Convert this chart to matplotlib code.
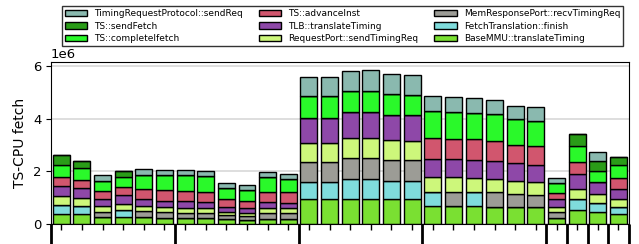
import numpy as np
import matplotlib
matplotlib.use("Agg")
import matplotlib.pyplot as plt

# Stack components, bottom to top (values in units of 1e6)
labels = [
    "BaseMMU::translateTiming",
    "FetchTranslation::finish",
    "MemResponsePort::recvTimingReq",
    "RequestPort::sendTimingReq",
    "TLB::translateTiming",
    "TS::advanceInst",
    "TS::completeIfetch",
    "TS::sendFetch",
    "TimingRequestProtocol::sendReq",
]
colors = ["#7ae032", "#7fdcdc", "#9c9c96", "#cdf77b", "#8e48a8",
          "#d1566e", "#2af92a", "#2a9c18", "#8ab9af"]

base_mmu = [0.39, 0.39, 0.25, 0.28, 0.25, 0.23, 0.22, 0.21, 0.18, 0.15, 0.20, 0.20,
            0.94, 0.94, 0.96, 0.96, 0.94, 0.94, 0.68, 0.68, 0.68, 0.66, 0.63, 0.63,
            0.24, 0.52, 0.44, 0.37]
fetch_translation = [0.33, 0.31, 0, 0.24, 0, 0, 0, 0, 0, 0, 0, 0,
                     0.67, 0.67, 0.75, 0.75, 0.71, 0.71, 0.54, 0, 0.54, 0, 0, 0,
                     0, 0.42, 0.34, 0.29]
mem_response = [0, 0, 0.22, 0, 0.24, 0.21, 0.19, 0.20, 0.15, 0.15, 0.21, 0.21,
                0.73, 0.73, 0.78, 0.78, 0.78, 0.78, 0, 0.54, 0, 0.54, 0.50, 0.48,
                0.20, 0, 0, 0]
request_port = [0.33, 0.27, 0.20, 0.23, 0.21, 0.19, 0.19, 0.18, 0.14, 0.13, 0.18, 0.18,
                0.75, 0.75, 0.78, 0.78, 0.75, 0.73, 0.55, 0.55, 0.51, 0.51, 0.50, 0.47,
                0.21, 0.39, 0.35, 0.28]
tlb = [0.41, 0.38, 0.28, 0.35, 0.26, 0.26, 0.26, 0.24, 0.19, 0.16, 0.23, 0.22,
       0.95, 0.95, 0.97, 0.97, 0.97, 0.97, 0.70, 0.69, 0.71, 0.70, 0.67, 0.67,
       0.29, 0.56, 0.46, 0.38]
advance_inst = [0.34, 0.33, 0.30, 0.29, 0.37, 0.39, 0.40, 0.40, 0.29, 0.28, 0.41, 0.39,
                0, 0, 0, 0, 0, 0, 0.78, 0.78, 0.78, 0.75, 0.70, 0.71,
                0.22, 0.45, 0, 0.41]
complete_ifetch = [0.44, 0.43, 0.40, 0.39, 0.53, 0.57, 0.60, 0.58, 0.42, 0.42, 0.54, 0.51,
                   0.80, 0.80, 0.80, 0.80, 0.77, 0.77, 1.04, 1.01, 1.01, 1.03, 0.97, 0.94,
                   0.41, 0.63, 0.42, 0.51]
send_fetch = [0.37, 0.30, 0, 0.23, 0, 0, 0, 0, 0, 0, 0, 0,
              0, 0, 0, 0, 0, 0, 0, 0, 0, 0, 0, 0,
              0, 0.44, 0.38, 0.32]
timing_req_protocol = [0, 0, 0.20, 0, 0.22, 0.20, 0.20, 0.20, 0.17, 0.18, 0.19, 0.19,
                       0.75, 0.75, 0.78, 0.82, 0.76, 0.76, 0.55, 0.57, 0.54, 0.53, 0.52, 0.53,
                       0.19, 0, 0.36, 0]

series = [base_mmu, fetch_translation, mem_response, request_port, tlb,
          advance_inst, complete_ifetch, send_fetch, timing_req_protocol]

# group boundaries on the x axis (long ticks)
group_edges = [-0.5, 5.5, 11.5, 17.5, 23.5, 24.5, 25.5, 26.5, 27.5]

fig = plt.figure(figsize=(6.39, 2.44), dpi=100)
ax = fig.add_axes([0.0798, 0.082, 0.9042, 0.664])

x = np.arange(len(base_mmu))
bottom = np.zeros(len(x))
handles = []
for vals, lab, col in zip(series, labels, colors):
    vals = np.array(vals) * 1e6
    h = ax.bar(x, vals, width=0.82, bottom=bottom, color=col,
               edgecolor="black", linewidth=1.0, label=lab)
    handles.append(h)
    bottom += vals

ax.set_xlim(-0.5, 27.5)
ax.set_ylim(0, 6.15e6)
ax.set_yticks([0, 2e6, 4e6, 6e6])
ax.tick_params(axis="y", labelsize=9.5)
ax.set_ylabel("TS-CPU fetch", fontsize=10)
ax.yaxis.get_offset_text().set_fontsize(9.5)

ax.set_xticks(group_edges)
ax.set_xticklabels([])
ax.set_xticks(x, minor=True)
ax.tick_params(axis="x", which="major", length=15, width=2)
ax.tick_params(axis="x", which="minor", length=4, width=1)

ax.grid(axis="y", color="#d8d8d8", linewidth=1.2)
ax.set_axisbelow(True)

fig.legend(handles[::-1], labels[::-1], ncol=3, loc="upper center",
           bbox_to_anchor=(0.536, 0.995), fontsize=6.5, frameon=True,
           edgecolor="black", fancybox=False, handlelength=2.5,
           columnspacing=1.7, handletextpad=0.8, labelspacing=0.4,
           borderpad=0.35)

fig.savefig("out.png", dpi=100)
